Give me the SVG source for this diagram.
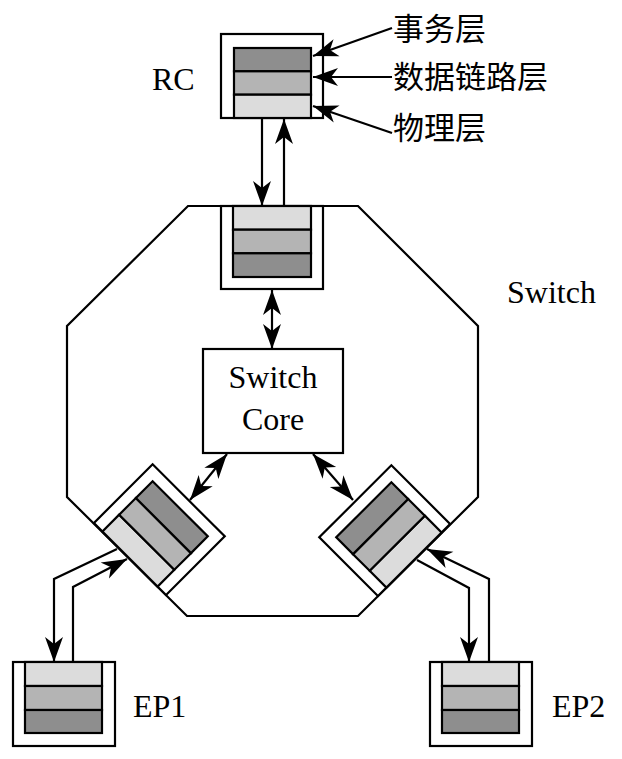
<svg xmlns="http://www.w3.org/2000/svg" xmlns:xlink="http://www.w3.org/1999/xlink" width="622" height="759" viewBox="0 0 622 759">
<style>
.ln{fill:none;stroke:#000;stroke-width:2.2}
.box{fill:#fff;stroke:#000;stroke-width:2.2}
.dk{fill:#8e8e8e;stroke:#000;stroke-width:2.2}
.md{fill:#b4b4b4;stroke:#000;stroke-width:2.2}
.lt{fill:#dcdcdc;stroke:#000;stroke-width:2.2}
.t{font-family:"Liberation Serif","Times New Roman",serif;font-size:32px;fill:#000}
.cn{font-family:"Noto Sans CJK SC","Liberation Serif",sans-serif;font-size:31px;fill:#000}
</style>
<defs>
<marker id="ah" viewBox="-28 -14 30 28" refX="0" refY="0" markerWidth="30" markerHeight="28" markerUnits="userSpaceOnUse" orient="auto">
<path d="M0,0 L-25,-9 L-18,0 L-25,9 Z" fill="#000"/>
</marker>
<marker id="ahs" viewBox="-2 -14 30 28" refX="0" refY="0" markerWidth="30" markerHeight="28" markerUnits="userSpaceOnUse" orient="auto">
<path d="M0,0 L25,-9 L18,0 L25,9 Z" fill="#000"/>
</marker>
<g id="port">
<rect class="box" x="-51" y="0" width="102" height="83"/>
<rect class="lt" x="-39" y="0" width="78" height="23.7"/>
<rect class="md" x="-39" y="23.7" width="78" height="23.6"/>
<rect class="dk" x="-39" y="47.3" width="78" height="23.7"/>
</g>
</defs>

<g id="switch">
<polygon class="ln" points="188,206 358,206 478,326 478,497 358,616 187,616 67,497 67,326"/>
<text class="t" x="507" y="303">Switch</text>
</g>

<g id="rc">
<rect class="box" x="221" y="34" width="102" height="84"/>
<rect class="dk" x="234" y="48" width="77" height="23.3"/>
<rect class="md" x="234" y="71.3" width="77" height="23.4"/>
<rect class="lt" x="234" y="94.7" width="77" height="23.3"/>
<text class="t" x="152" y="90">RC</text>
</g>

<g id="port-top"><use xlink:href="#port" href="#port" transform="translate(272,206)"/></g>
<g id="port-left"><use xlink:href="#port" href="#port" transform="translate(130,559) rotate(-135)"/></g>
<g id="port-right"><use xlink:href="#port" href="#port" transform="translate(414,560) rotate(135)"/></g>

<g id="core">
<rect class="box" x="203" y="349" width="140" height="104"/>
<text class="t" x="273" y="388" text-anchor="middle">Switch</text>
<text class="t" x="273" y="430" text-anchor="middle">Core</text>
</g>

<g id="ep1">
<rect class="box" x="13" y="662" width="102" height="84"/>
<rect class="lt" x="25" y="662" width="77" height="24"/>
<rect class="md" x="25" y="686" width="77" height="24"/>
<rect class="dk" x="25" y="710" width="77" height="23"/>
<text class="t" x="133" y="717">EP1</text>
</g>

<g id="ep2">
<rect class="box" x="430" y="662" width="102" height="84"/>
<rect class="lt" x="442" y="662" width="77" height="24"/>
<rect class="md" x="442" y="686" width="77" height="24"/>
<rect class="dk" x="442" y="710" width="77" height="23"/>
<text class="t" x="552" y="717">EP2</text>
</g>

<g id="labels">
<text class="cn" x="393" y="40">事务层</text>
<text class="cn" x="393" y="88">数据链路层</text>
<text class="cn" x="393" y="139">物理层</text>
</g>

<g id="connectors">
<line class="ln" marker-end="url(#ah)" x1="392" y1="28" x2="313" y2="56"/>
<line class="ln" marker-end="url(#ah)" x1="392" y1="77" x2="313" y2="77"/>
<line class="ln" marker-end="url(#ah)" x1="392" y1="133" x2="313" y2="106"/>
<line class="ln" marker-end="url(#ah)" x1="262" y1="118" x2="262" y2="206"/>
<line class="ln" marker-end="url(#ah)" x1="284" y1="206" x2="284" y2="119"/>
<line class="ln" marker-start="url(#ahs)" marker-end="url(#ah)" x1="272" y1="290" x2="272" y2="349"/>
<line class="ln" marker-start="url(#ahs)" marker-end="url(#ah)" x1="227" y1="454" x2="190" y2="500"/>
<line class="ln" marker-start="url(#ahs)" marker-end="url(#ah)" x1="313" y1="454" x2="353" y2="500"/>
<polyline class="ln" marker-end="url(#ah)" points="117,549 54,579 54,662"/>
<polyline class="ln" marker-end="url(#ah)" points="73,662 73,587 127,559"/>
<polyline class="ln" marker-end="url(#ah)" points="417,560 469,588 469,662"/>
<polyline class="ln" marker-end="url(#ah)" points="489,662 489,579 427,549"/>
</g>
</svg>
